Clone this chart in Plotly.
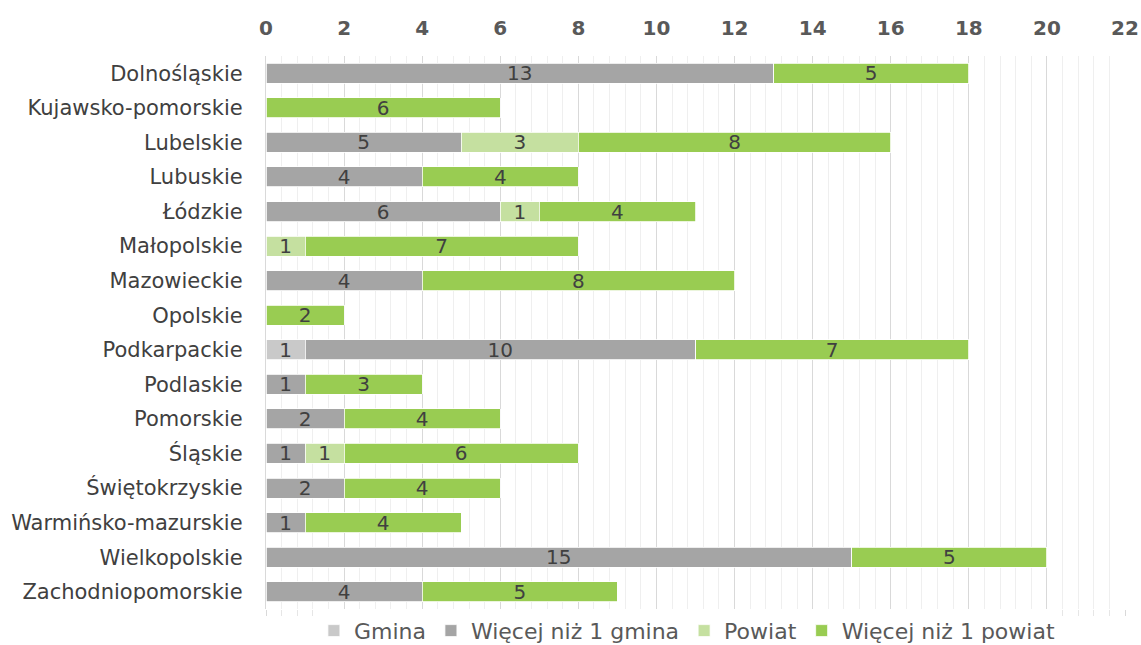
import plotly.graph_objects as go

categories = ["Dolnośląskie", "Kujawsko-pomorskie", "Lubelskie", "Lubuskie", "Łódzkie",
              "Małopolskie", "Mazowieckie", "Opolskie", "Podkarpackie", "Podlaskie",
              "Pomorskie", "Śląskie", "Świętokrzyskie", "Warmińsko-mazurskie",
              "Wielkopolskie", "Zachodniopomorskie"]
gmina = [None, None, None, None, None, None, None, None, 1, None, None, None, None, None, None, None]
wiecej_gmina = [13, None, 5, 4, 6, None, 4, None, 10, 1, 2, 1, 2, 1, 15, 4]
powiat = [None, None, 3, None, 1, 1, None, None, None, None, None, 1, None, None, None, None]
wiecej_powiat = [5, 6, 8, 4, 4, 7, 8, 2, 7, 3, 4, 6, 4, 4, 5, 5]

series = [
    ("Gmina", gmina, "#C9C9C9"),
    ("Więcej niż 1 gmina", wiecej_gmina, "#A5A5A5"),
    ("Powiat", powiat, "#C5E0A0"),
    ("Więcej niż 1 powiat", wiecej_powiat, "#99CC52"),
]

FONT = "DejaVu Sans"
fig = go.Figure()
for name, vals, color in series:
    fig.add_trace(go.Bar(
        y=categories, x=vals, name=name, orientation="h",
        marker=dict(color=color, line=dict(color="white", width=0.8)),
        text=vals, textposition="inside", insidetextanchor="middle", textangle=0,
        textfont=dict(family=FONT, size=20, color="#404040"),
        constraintext="none",
    ))

# invisible helper so the bottom tick axis gets drawn
fig.add_trace(go.Scatter(x=[0], y=[categories[0]], xaxis="x2", mode="none",
                         showlegend=False, hoverinfo="skip"))

n = len(categories)
fig.update_layout(
    barmode="stack", bargap=0.42,
    width=1141, height=645,
    margin=dict(l=266, r=16, t=56, b=36, autoexpand=False),
    paper_bgcolor="white", plot_bgcolor="white",
    font=dict(family=FONT, size=20, color="#595959"),
    uniformtext=dict(mode=False),
    legend=dict(orientation="h", x=0.49, xanchor="center",
                yref="container", y=0.022, yanchor="middle",
                font=dict(family=FONT, size=22, color="#595959"),
                itemwidth=30, traceorder="normal"),
    xaxis=dict(side="top", range=[0, 22], dtick=2, tick0=0, automargin=False,
               showgrid=True, gridcolor="#D9D9D9", gridwidth=1.3,
               minor=dict(dtick=0.4, showgrid=True, gridcolor="#EFEFEF", gridwidth=1),
               zeroline=False, showline=False,
               ticks="outside", ticklen=12, tickcolor="rgba(0,0,0,0)",
               tickfont=dict(family=FONT, size=20, color="#595959", weight="bold")),
    xaxis2=dict(overlaying="x", side="bottom", range=[0, 22], dtick=2, tick0=0,
                automargin=False, showgrid=False, zeroline=False, showline=False,
                showticklabels=False, ticks="outside", ticklen=6,
                tickcolor="#D9D9D9", tickwidth=1.3,
                minor=dict(dtick=0.4, ticks="outside", ticklen=6,
                           tickcolor="#E6E6E6", showgrid=False)),
    yaxis=dict(range=[n - 0.5, -0.5], showgrid=False, zeroline=False, automargin=False,
               showline=True, linecolor="#D9D9D9", linewidth=1.3,
               ticks="outside", ticklen=18, tickcolor="rgba(0,0,0,0)",
               tickfont=dict(family=FONT, size=21, color="#404040")),
)

fig.write_html("out.html", config={"displayModeBar": False},
               post_script="document.body.style.margin='0px';document.body.style.overflow='hidden';")
